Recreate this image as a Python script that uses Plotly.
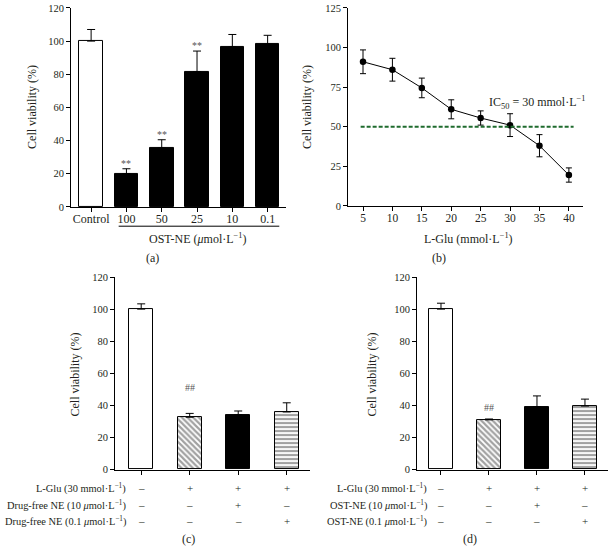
import plotly.graph_objects as go

# ---------------- data ----------------
# panel (a)
a_labels = ["Control", "100", "50", "25", "10", "0.1"]
a_values = [100, 20, 35.5, 81.5, 96.5, 98]
a_err = [7, 3, 5, 12.5, 7.5, 5.5]
a_sig = ["", "**", "**", "**", "", ""]

# panel (b)
b_x = [5, 10, 15, 20, 25, 30, 35, 40]
b_values = [91, 86, 74.5, 61, 55.5, 51, 38, 19.5]
b_err = [7.5, 7.2, 6.2, 6, 4.5, 7.2, 7, 4.5]
b_ic50 = 50

# panel (c)
c_values = [100, 32.6, 34.1, 35.9]
c_err = [3.3, 2.4, 2.4, 5.7]
c_sig = ["", "##", "", ""]

# panel (d)
d_values = [100, 31, 39.2, 39.6]
d_err = [3.7, 0.5, 6.7, 4.3]
d_sig = ["", "##", "", ""]

row_signs = [["–", "+", "+", "+"],
             ["–", "–", "+", "–"],
             ["–", "–", "–", "+"]]
c_rows = ["L-Glu (30 mmol·L<sup>−1</sup>)",
          "Drug-free NE (10 <i>μ</i>mol·L<sup>−1</sup>)",
          "Drug-free NE (0.1 <i>μ</i>mol·L<sup>−1</sup>)"]
d_rows = ["L-Glu (30 mmol·L<sup>−1</sup>)",
          "OST-NE (10 <i>μ</i>mol·L<sup>−1</sup>)",
          "OST-NE (0.1 <i>μ</i>mol·L<sup>−1</sup>)"]

W, H = 610, 551
FONT = "Liberation Serif"
TXT = "#231f20"


def px(x):
    return x / W


def py(y):
    return 1 - y / H


fig = go.Figure()

# ---- (a) ----
a_colors = ["white"] + ["black"] * 5
fig.add_trace(go.Bar(
    x=list(range(len(a_labels))), y=a_values, width=0.67,
    marker=dict(color=a_colors, line=dict(color="black", width=1)),
    error_y=dict(type="data", array=a_err, arrayminus=[0] * 6, symmetric=False,
                 color="black", thickness=1, width=4),
    xaxis="x", yaxis="y", showlegend=False))

# ---- (b) ----
fig.add_trace(go.Scatter(
    x=b_x, y=b_values, mode="lines+markers",
    line=dict(color="black", width=1),
    marker=dict(color="black", size=6.5, symbol="circle"),
    error_y=dict(type="data", array=b_err, color="black", thickness=1, width=3),
    xaxis="x2", yaxis="y2", showlegend=False))

# ---- (c) & (d) ----
pattern_shapes = ["", "\\", "", "-"]
bar_colors = ["white", "white", "black", "white"]
for vals, errs, xa, ya in [(c_values, c_err, "x3", "y3"), (d_values, d_err, "x4", "y4")]:
    fig.add_trace(go.Bar(
        x=list(range(4)), y=vals, width=0.5,
        marker=dict(color=bar_colors, line=dict(color="black", width=1),
                    pattern=dict(shape=pattern_shapes, fgcolor="black", bgcolor="white",
                                 size=4, solidity=0.55, fillmode="overlay")),
        error_y=dict(type="data", array=errs, arrayminus=[0] * 4, symmetric=False,
                     color="black", thickness=1, width=4),
        xaxis=xa, yaxis=ya, showlegend=False))

axis_common = dict(showgrid=False, zeroline=False, showline=True, linecolor="black",
                   linewidth=1, ticks="outside", ticklen=4, tickcolor="black",
                   tickfont=dict(family=FONT, size=11, color=TXT))
ytick = dict(family=FONT, size=10.5, color=TXT)

layout = dict(
    width=W, height=H, margin=dict(l=0, r=0, t=0, b=0),
    paper_bgcolor="white", plot_bgcolor="white",
    font=dict(family=FONT, size=11, color=TXT),
    bargap=0,
    xaxis=dict(axis_common, domain=[px(71), px(286)], range=[-0.57, 5.52],
               tickvals=list(range(6)), ticktext=a_labels, anchor="y",
               ticklabelstandoff=-3,
               tickfont=dict(family=FONT, size=12, color=TXT)),
    yaxis=dict(axis_common, domain=[py(206), py(3)], range=[0, 120], dtick=20, anchor="x",
               tickfont=ytick),
    xaxis2=dict(axis_common, domain=[px(348), px(583)], range=[2.45, 42.4],
                tickvals=b_x, anchor="y2", ticklabelstandoff=-3,
                tickfont=dict(family=FONT, size=11.5, color=TXT)),
    yaxis2=dict(axis_common, domain=[py(205), py(3)], range=[0, 125], dtick=25, anchor="x2",
                tickfont=ytick),
    xaxis3=dict(axis_common, domain=[px(115), px(310)], range=[-0.54, 3.48],
                tickvals=list(range(4)), showticklabels=False, anchor="y3"),
    yaxis3=dict(axis_common, domain=[py(474), py(277.6)], range=[0, 120], dtick=20, anchor="x3",
                tickfont=ytick),
    xaxis4=dict(axis_common, domain=[px(417), px(608)], range=[-0.5, 3.48],
                tickvals=list(range(4)), showticklabels=False, anchor="y4"),
    yaxis4=dict(axis_common, domain=[py(474), py(277.6)], range=[0, 120], dtick=20, anchor="x4",
                tickfont=ytick),
)
fig.update_layout(**layout)

ann = []


def txt(x, y, t, size=11, xanchor="center", yanchor="middle", **kw):
    ann.append(dict(x=px(x), y=py(y), xref="paper", yref="paper", text=t, showarrow=False,
                    xanchor=xanchor, yanchor=yanchor,
                    font=dict(family=FONT, size=size, color=TXT), **kw))


# y titles
for (x, y) in [(32, 104), (307, 104), (75, 377), (372, 377)]:
    txt(x, y, "Cell viability (%)", size=12, textangle=-90)

# x titles and panel labels
txt(198, 238, "OST-NE (<i>μ</i>mol·L<sup>−1</sup>)", size=12)
txt(152, 258, "(a)", size=12)
txt(468, 238, "L-Glu (mmol·L<sup>−1</sup>)", size=12)
txt(439, 258, "(b)", size=12)
txt(188, 545, "(c)", size=12)
txt(470, 545, "(d)", size=12)
txt(537, 99, "IC<sub>50</sub> = 30 mmol·L<sup>−1</sup>", size=12)

# significance marks
for i, s in enumerate(a_sig):
    if s:
        ann.append(dict(x=i, y=a_values[i] + a_err[i], xref="x", yref="y", text=s,
                        showarrow=False, yanchor="bottom", yshift=-2,
                        font=dict(family=FONT, size=10, color="#555")))
for sigs, vals, errs, xr, yr, shift in [(c_sig, c_values, c_err, "x3", "y3", 18),
                                        (d_sig, d_values, d_err, "x4", "y4", 4)]:
    for i, s in enumerate(sigs):
        if s:
            ann.append(dict(x=i, y=vals[i] + errs[i], xref=xr, yref=yr, text=s,
                            showarrow=False, yanchor="bottom", yshift=shift,
                            font=dict(family=FONT, size=10, color="#555")))

# row tables
row_y = [493, 510.5, 527]
for rows, xr, xend in [(c_rows, "x3", 128), (d_rows, "x4", 429)]:
    for r, (label, yy) in enumerate(zip(rows, row_y)):
        txt(xend, yy, label, size=10.4, xanchor="right")
        for i, s in enumerate(row_signs[r]):
            ann.append(dict(x=i, y=py(yy), xref=xr, yref="paper", text=s, showarrow=False,
                            yanchor="middle", font=dict(family=FONT, size=11, color=TXT)))

fig.update_layout(annotations=ann)

# shapes: underline for (a), IC50 dashed line for (b)
fig.add_shape(type="line", xref="x", yref="paper", x0=0.78, x1=5.33,
              y0=py(225.7), y1=py(225.7), line=dict(color="black", width=1))
fig.add_shape(type="line", xref="x2", yref="y2", x0=4.6, x1=40.8, y0=b_ic50, y1=b_ic50,
              line=dict(color="#1f6b2e", width=2, dash="4px,2px"))

fig.write_html("out.html", config={"displayModeBar": False},
               post_script="document.body.style.margin='0';document.body.style.overflow='hidden';")
